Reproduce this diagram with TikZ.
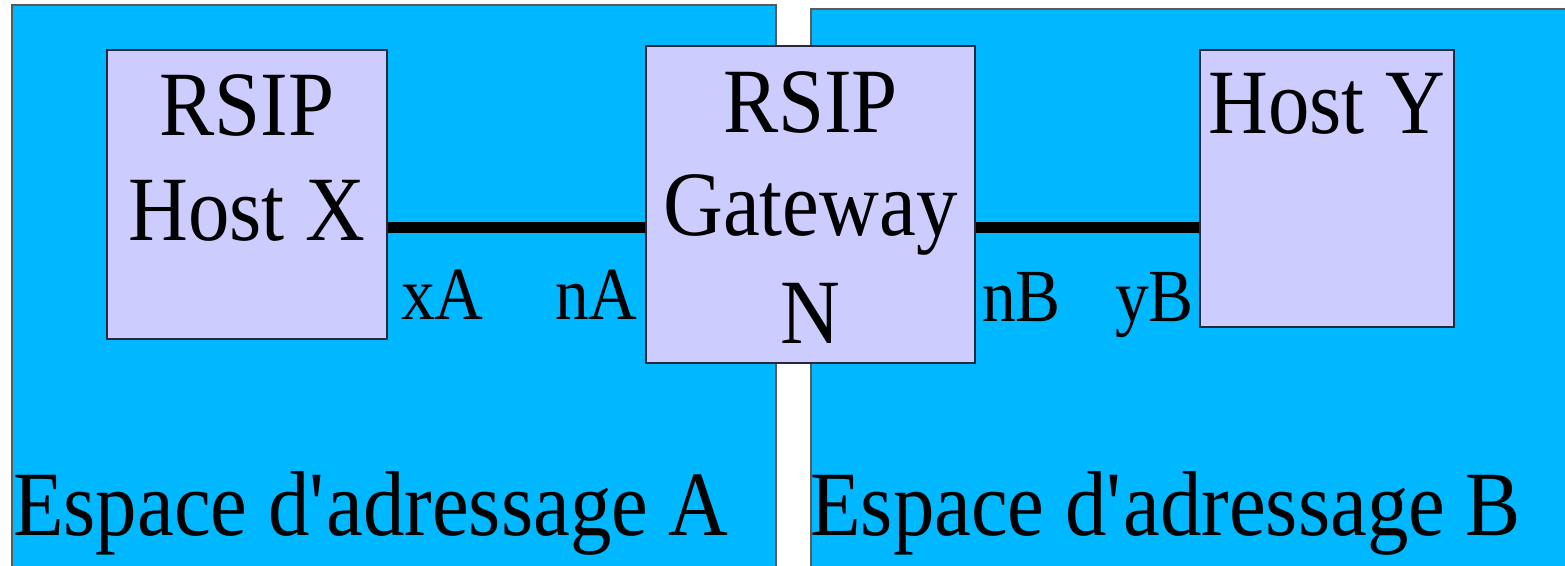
\documentclass[tikz,border=0pt]{standalone}
\usepackage{fontspec}
\setmainfont{Liberation Serif}[FakeStretch=0.9]
\definecolor{regionblue}{RGB}{0,184,255}
\definecolor{boxfill}{RGB}{204,204,255}
\definecolor{regionedge}{RGB}{90,90,90}
\definecolor{boxedge}{RGB}{40,40,60}
\tikzset{
  region/.style={draw=regionedge, fill=regionblue, line width=1.2pt},
  hostbox/.style={draw=boxedge, fill=boxfill, line width=1.2pt, inner sep=0pt, rectangle},
  big/.style={font=\fontsize{92}{100}\selectfont, inner sep=0pt, anchor=base},
  small/.style={font=\fontsize{75}{80}\selectfont, inner sep=0pt, anchor=base west},
  link/.style={line width=11pt, draw=black}
}
\begin{document}
\begin{tikzpicture}[x=1pt,y=-1pt]
\useasboundingbox (0,0) rectangle (1565,565);
\clip (0,0) rectangle (1565,565);
% address spaces
\path[region] (12,5) rectangle (776,580);
\path[region] (811,9) rectangle (1580,580);
% boxes
\node[hostbox, minimum width=280pt, minimum height=289pt] (hx) at (247,194.5) {};
\node[hostbox, minimum width=254pt, minimum height=277pt] (hy) at (1327,188.5) {};
\node[hostbox, minimum width=329pt, minimum height=317pt] (gw) at (810.5,204.5) {};
% links
\coordinate (liney) at (0,227.5);
\draw[link] (hx.east |- liney) -- (gw.west |- liney);
\draw[link] (gw.east |- liney) -- (hy.west |- liney);
% box texts
\node[big] (hx1) at (247,135) {RSIP};
\node[big] (hx2) at (247,240) {Host X};
\node[big] (gw1) at (810.5,132) {RSIP};
\node[big] (gw2) at (810.5,235) {Gateway};
\node[big] (gw3) at (810.5,343) {N};
\node[big] (hy1) at (1327,133) {Host Y};
% interface labels
\node[small] (xA) at (401,319) {xA};
\node[small] (nA) at (555,319) {nA};
\node[small] (nB) at (982,321) {nB};
\node[small] (yB) at (1115,321) {yB};
% space labels
\node[big, anchor=base west] (spA) at (13,535) {Espace d\textquotesingle adressage A};
\node[big, anchor=base west] (spB) at (810,535) {Espace d\textquotesingle adressage B};
\end{tikzpicture}
\end{document}
